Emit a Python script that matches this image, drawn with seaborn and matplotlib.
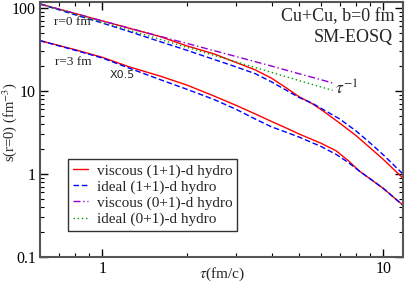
import numpy as np
import pandas as pd
import matplotlib
matplotlib.use("Agg")
import matplotlib.pyplot as plt
import seaborn as sns

# values (entropy density, fm^-3) vs tau (fm/c)
tau_r0_visc = [0.6, 0.8, 1.0, 1.25, 1.6, 2.0, 2.5, 3.0, 3.5, 4.0, 4.5, 5.0, 5.6, 6.0, 7.0, 8.0, 9.0, 10.0, 11.75]
s_r0_visc = [112, 86, 70, 57, 45.5, 35, 28, 22, 18, 14.3, 11.0, 8.6, 7.0, 6.0, 4.1, 2.9, 2.05, 1.5, 0.89]

tau_r0_ideal = [0.6, 0.8, 1.0, 1.25, 1.6, 2.0, 2.5, 3.0, 3.5, 4.0, 4.5, 5.0, 5.6, 6.0, 7.0, 8.0, 9.0, 10.0, 11.75]
s_r0_ideal = [112, 83, 66, 52, 39.5, 31, 24, 19.5, 16.2, 12.9, 10.3, 8.4, 7.1, 6.2, 4.6, 3.3, 2.35, 1.7, 1.0]

tau_r3_visc = [0.6, 0.8, 1.0, 1.25, 1.6, 2.0, 2.5, 3.0, 3.5, 4.0, 4.5, 5.0, 6.0, 6.8, 7.5, 8.26, 9.0, 10.0, 11.75]
s_r3_visc = [40.5, 31.5, 25.5, 19.5, 15.2, 11.8, 8.7, 6.7, 5.3, 4.3, 3.6, 3.05, 2.35, 1.9, 1.45, 1.07, 0.87, 0.67, 0.42]

tau_r3_ideal = [0.6, 0.8, 1.0, 1.25, 1.6, 2.0, 2.5, 3.0, 3.5, 4.0, 4.5, 5.0, 6.0, 6.8, 7.5, 8.26, 9.0, 10.0, 11.75]
s_r3_ideal = [40.5, 31, 25, 18.8, 13.8, 10.5, 7.9, 6.0, 4.6, 3.7, 3.2, 2.8, 2.15, 1.72, 1.38, 1.07, 0.87, 0.67, 0.42]

tau_bj = [0.6, 0.8, 1.0, 1.5, 2.0, 3.0, 4.0, 5.0, 6.0, 6.6]
s_bj_visc = [112, 86, 70, 48.5, 37.5, 26, 20, 16.2, 13.7, 12.5]
s_bj_ideal = [112, 84, 67, 45, 33.6, 22.4, 16.8, 13.4, 11.2, 10.2]

sns.set_style("ticks")
plt.rcParams['font.family'] = ['Liberation Serif', 'DejaVu Serif']
plt.rcParams['mathtext.fontset'] = 'stix'

fig = plt.figure(figsize=(4.07, 2.87), dpi=100)
ax = fig.add_axes([40/407, 1 - 257/287, 363/407, 255.5/287])

red, blue, purple, green = '#ff0000', '#0000ff', '#9400d3', '#00a000'

sns.lineplot(x=tau_r0_visc, y=s_r0_visc, ax=ax, color=red, lw=1.0, label='viscous (1+1)-d hydro')
sns.lineplot(x=tau_r0_ideal, y=s_r0_ideal, ax=ax, color=blue, lw=1.0, dashes=(4, 2), label='ideal (1+1)-d hydro')
sns.lineplot(x=tau_bj, y=s_bj_visc, ax=ax, color=purple, lw=1.0, dashes=(5, 2, 1, 2), label='viscous (0+1)-d hydro')
sns.lineplot(x=tau_bj, y=s_bj_ideal, ax=ax, color=green, lw=1.0, dashes=(1, 2), label='ideal (0+1)-d hydro')
sns.lineplot(x=tau_r3_visc, y=s_r3_visc, ax=ax, color=red, lw=1.0)
sns.lineplot(x=tau_r3_ideal, y=s_r3_ideal, ax=ax, color=blue, lw=1.0)
ax.lines[-1].set_dashes((4, 2))

ax.set_xscale('log')
ax.set_yscale('log')
ax.set_xlim(0.6, 11.75)
ax.set_ylim(0.1, 120)

ax.set_xticks([1, 10])
ax.set_xticklabels(['1', '10'])
ax.set_yticks([0.1, 1, 10, 100])
ax.set_yticklabels(['0.1', '1', '10', '100'])
ax.tick_params(which='both', direction='in', top=True, right=True, labelsize=11.5, colors='black')
ax.tick_params(which='major', length=6, width=1, pad=3)
ax.tick_params(which='minor', length=3, width=0.8)
for sp in ax.spines.values():
    sp.set_color('#555555')
    sp.set_linewidth(1.5)
    sp.set_visible(True)

ax.set_xlabel(r'$\tau$(fm/c)', fontsize=11)
ax.xaxis.set_label_coords(0.5, -0.032)
ax.set_ylabel(r's(r=0) (fm$^{-3}$)', fontsize=10.5)
ax.yaxis.set_label_coords(-0.058, 0.528)

fig.text(72/407, 1 - 22/287, 'r=0 fm', fontsize=9.5, ha='center', va='center')
fig.text(73/407, 1 - 62/287, 'r=3 fm', fontsize=9.5, ha='center', va='center')
fig.text(122/407, 1 - 75/287, 'X0.5', fontsize=8, ha='center', va='center', family='DejaVu Sans')
fig.text(395/407, 1 - 17/287, 'Cu+Cu, b=0 fm', fontsize=13, ha='right', va='center')
fig.text(393/407, 1 - 37/287, 'SM-EOSQ', fontsize=13, ha='right', va='center')
fig.text(335/407, 1 - 89/287, r'$\tau^{-1}$', fontsize=12.5, ha='left', va='center')

leg = ax.legend(loc='lower left', bbox_to_anchor=(0.078, 0.103), borderaxespad=0,
                fontsize=11, handlelength=1.0, handletextpad=0.55, labelspacing=0.15,
                borderpad=0.3, fancybox=False, framealpha=1, edgecolor='#333333')
leg.get_frame().set_linewidth(1.0)

fig.savefig('out.png', dpi=100)
